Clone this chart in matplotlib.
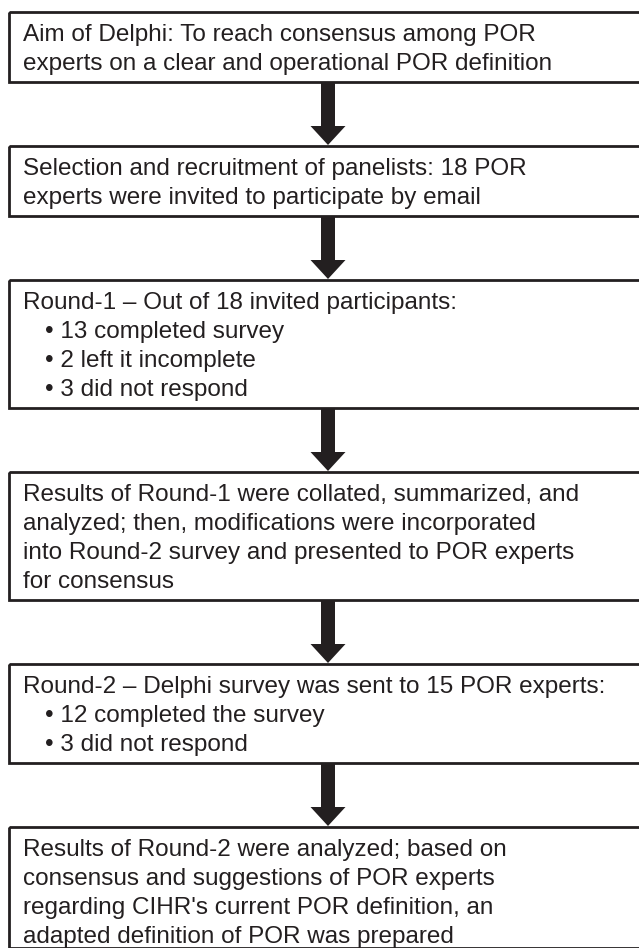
import matplotlib
matplotlib.use('Agg')
import matplotlib.pyplot as plt
from matplotlib.patches import Rectangle

# Box texts, one list of lines per step
box_lines = [
    ['Aim of Delphi: To reach consensus among POR',
     'experts on a clear and operational POR definition'],
    ['Selection and recruitment of panelists: 18 POR',
     'experts were invited to participate by email'],
    ['Round-1 \u2013 Out of 18 invited participants:',
     '\u2022 13 completed survey',
     '\u2022 2 left it incomplete',
     '\u2022 3 did not respond'],
    ['Results of Round-1 were collated, summarized, and',
     'analyzed; then, modifications were incorporated',
     'into Round-2 survey and presented to POR experts',
     'for consensus'],
    ['Round-2 \u2013 Delphi survey was sent to 15 POR experts:',
     '\u2022 12 completed the survey',
     '\u2022 3 did not respond'],
    ['Results of Round-2 were analyzed; based on',
     'consensus and suggestions of POR experts',
     "regarding CIHR's current POR definition, an",
     'adapted definition of POR was prepared'],
]

W, H = 639, 948
ink = '#231f20'

plt.rcParams['font.family'] = ['Liberation Sans', 'DejaVu Sans']

fig = plt.figure(figsize=(W / 100, H / 100), dpi=100)
ax = fig.add_axes([0, 0, 1, 1])
ax.set_xlim(0, W)
ax.set_ylim(H, 0)
ax.axis('off')

# layout (pixels)
left = 9
top = 12
pad = 12
line_h = 29
gap = 64
arrow_x = 328

for i, lines in enumerate(box_lines):
    h = pad + line_h * len(lines)
    if top + h > H:
        # last box runs off the bottom of the page
        h = H - 0.5 - top
    ax.add_patch(Rectangle((left, top), W + 20 - left, h, fill=False,
                           edgecolor=ink, linewidth=2.0))
    for j, line in enumerate(lines):
        x = 23
        if line.startswith('\u2022'):
            x = 45
        ax.text(x, top + 29 + j * line_h, line, fontsize=17.5, color=ink,
                ha='left', va='baseline')
    bottom = top + h
    if i < len(box_lines) - 1:
        ax.arrow(arrow_x, bottom, 0, gap - 1, width=14, head_width=35,
                 head_length=19, length_includes_head=True,
                 color=ink, linewidth=0)
    top = bottom + gap

fig.savefig('out.png', dpi=100, facecolor='white')
